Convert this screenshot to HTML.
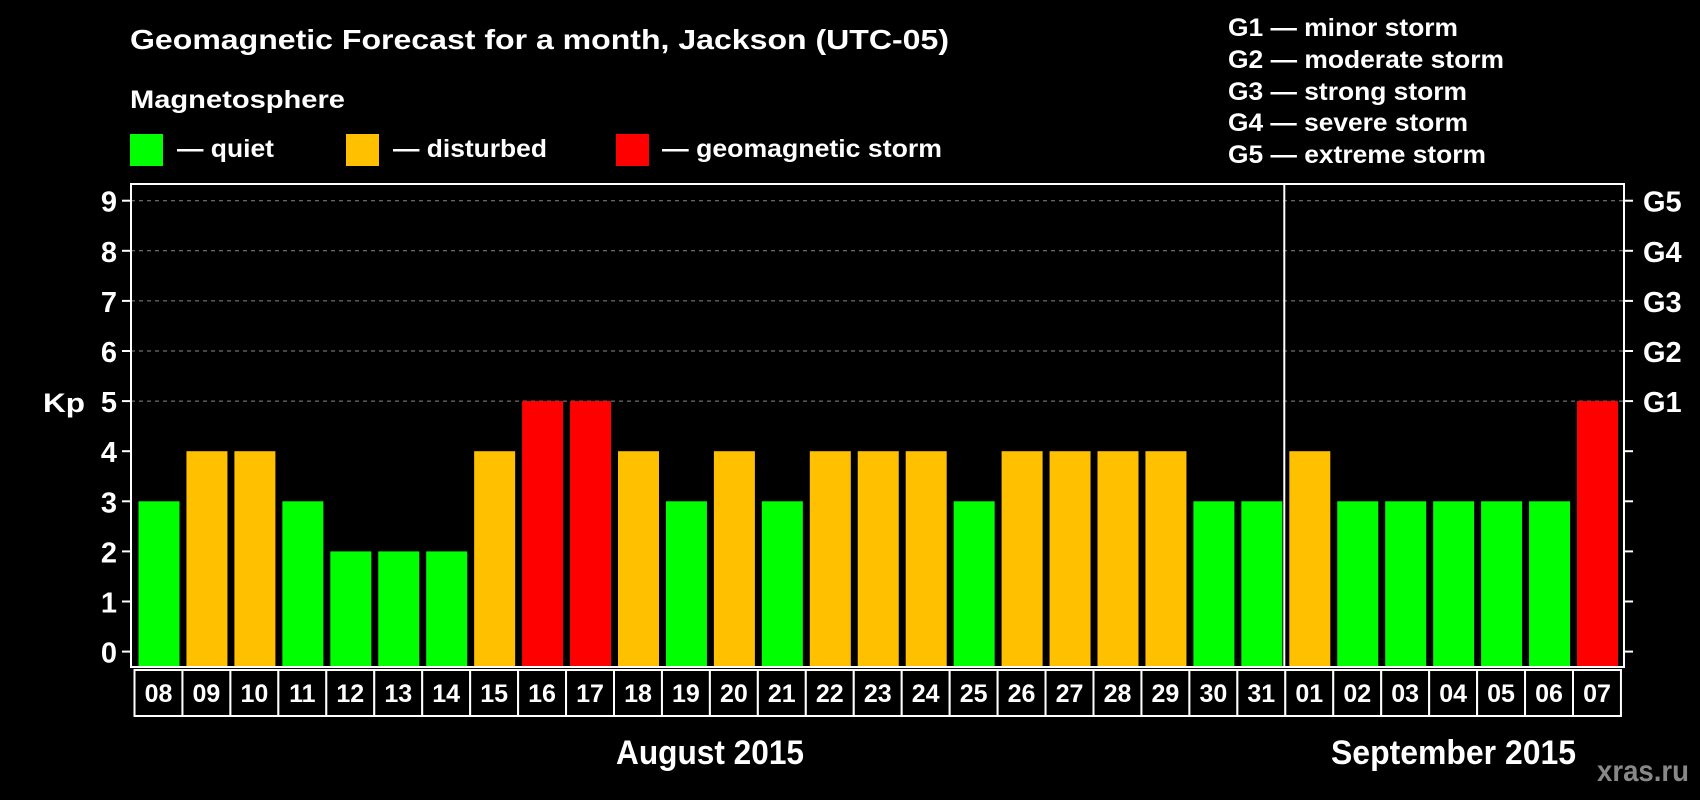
<!DOCTYPE html>
<html><head><meta charset="utf-8"><style>
html,body{margin:0;padding:0;background:#000;width:1700px;height:800px;overflow:hidden}
svg{display:block;font-family:"Liberation Sans",sans-serif;font-weight:bold}
</style></head><body>
<svg id="chart" width="1700" height="800" viewBox="0 0 1700 800">
<text x="130" y="49" fill="#fff" font-size="28" textLength="819" lengthAdjust="spacingAndGlyphs">Geomagnetic Forecast for a month, Jackson (UTC-05)</text>
<text x="130" y="108" fill="#fff" font-size="25" textLength="215" lengthAdjust="spacingAndGlyphs">Magnetosphere</text>
<g>
<rect x="130" y="134" width="33" height="32" fill="#00ff00"/>
<text x="177" y="157" fill="#fff" font-size="25" textLength="97" lengthAdjust="spacingAndGlyphs">— quiet</text>
<rect x="346" y="134" width="33" height="32" fill="#ffc000"/>
<text x="393" y="157" fill="#fff" font-size="25" textLength="154" lengthAdjust="spacingAndGlyphs">— disturbed</text>
<rect x="616" y="134" width="33" height="32" fill="#ff0000"/>
<text x="662" y="157" fill="#fff" font-size="25" textLength="280" lengthAdjust="spacingAndGlyphs">— geomagnetic storm</text>
</g>
<g fill="#fff" font-size="25">
<text x="1228" y="36" textLength="230" lengthAdjust="spacingAndGlyphs">G1 — minor storm</text>
<text x="1228" y="68" textLength="276" lengthAdjust="spacingAndGlyphs">G2 — moderate storm</text>
<text x="1228" y="100" textLength="239" lengthAdjust="spacingAndGlyphs">G3 — strong storm</text>
<text x="1228" y="131" textLength="240" lengthAdjust="spacingAndGlyphs">G4 — severe storm</text>
<text x="1228" y="163" textLength="258" lengthAdjust="spacingAndGlyphs">G5 — extreme storm</text>
</g>
<text x="43" y="412" fill="#fff" font-size="27" textLength="42" lengthAdjust="spacingAndGlyphs">Kp</text>
<text x="616" y="764" fill="#fff" font-size="34" textLength="188" lengthAdjust="spacingAndGlyphs">August 2015</text>
<text x="1331" y="764" fill="#fff" font-size="34" textLength="245" lengthAdjust="spacingAndGlyphs">September 2015</text>
<text x="1597" y="781" fill="#888" font-size="30" textLength="92" lengthAdjust="spacingAndGlyphs">xras.ru</text>
</svg>
<script>
const days = ["08","09","10","11","12","13","14","15","16","17","18","19","20","21","22","23","24","25","26","27","28","29","30","31","01","02","03","04","05","06","07"];
const kpValues = [3,4,4,3,2,2,2,4,5,5,4,3,4,3,4,4,4,3,4,4,4,4,3,3,4,3,3,3,3,3,5];
const yTicks = [0,1,2,3,4,5,6,7,8,9];
const gLabels = ["G1","G2","G3","G4","G5"];
const gLevels = [5,6,7,8,9];
const monthSplitIndex = 24;

const NS = "http://www.w3.org/2000/svg";
const svg = document.getElementById("chart");
const L = 131, R = 1624, T = 184, B = 667;
const cellL = 134.5, cellW = 47.95;
function yScale(v){ return 651.6 - 50.1 * v; }
function xCell(i){ return cellL + cellW * i; }
function mk(tag, attrs, parent){ const e = document.createElementNS(NS, tag); for (const k in attrs) e.setAttribute(k, attrs[k]); (parent||svg).appendChild(e); return e; }
function colorFor(v){ return v >= 5 ? "#ff0000" : (v >= 4 ? "#ffc000" : "#00ff00"); }

gLevels.forEach(function(v){
  const g = mk("line", {x1:L, x2:R, y1:yScale(v), y2:yScale(v), stroke:"#888", "stroke-width":1, "stroke-dasharray":"4,4"});
  
  
});
kpValues.forEach(function(v, i){
  const r = mk("rect", {x:xCell(i)+4, y:yScale(v), width:41, height:B - yScale(v), fill:colorFor(v)});
  
  
});
const fr = mk("rect", {x:L, y:T, width:R-L, height:B-T, fill:"none", stroke:"#fff", "stroke-width":2});


const dv = mk("line", {x1:xCell(monthSplitIndex)-1, x2:xCell(monthSplitIndex)-1, y1:T, y2:B, stroke:"#fff", "stroke-width":2});


yTicks.forEach(function(v){
  const y = yScale(v);
  const t1 = mk("line", {x1:122, x2:L, y1:y, y2:y, stroke:"#fff", "stroke-width":2});
  
  
  const t2 = mk("line", {x1:R, x2:1633, y1:y, y2:y, stroke:"#fff", "stroke-width":2});
  
  
  const lb = mk("text", {x:117, y:y+11, fill:"#fff", "font-size":29, "text-anchor":"end"});
  lb.textContent = v;
  
  
});
gLabels.forEach(function(g, i){
  const lb = mk("text", {x:1643, y:yScale(gLevels[i])+11, fill:"#fff", "font-size":29});
  lb.textContent = g;
  
  
});
days.forEach(function(d, i){
  const c = mk("rect", {x:xCell(i), y:670, width:cellW, height:46, fill:"#000", stroke:"#fff", "stroke-width":2});
  
  
  const t = mk("text", {x:xCell(i)+cellW/2, y:702, fill:"#fff", "font-size":25, "text-anchor":"middle"});
  t.textContent = d;
  
  
});
</script>
</body></html>
